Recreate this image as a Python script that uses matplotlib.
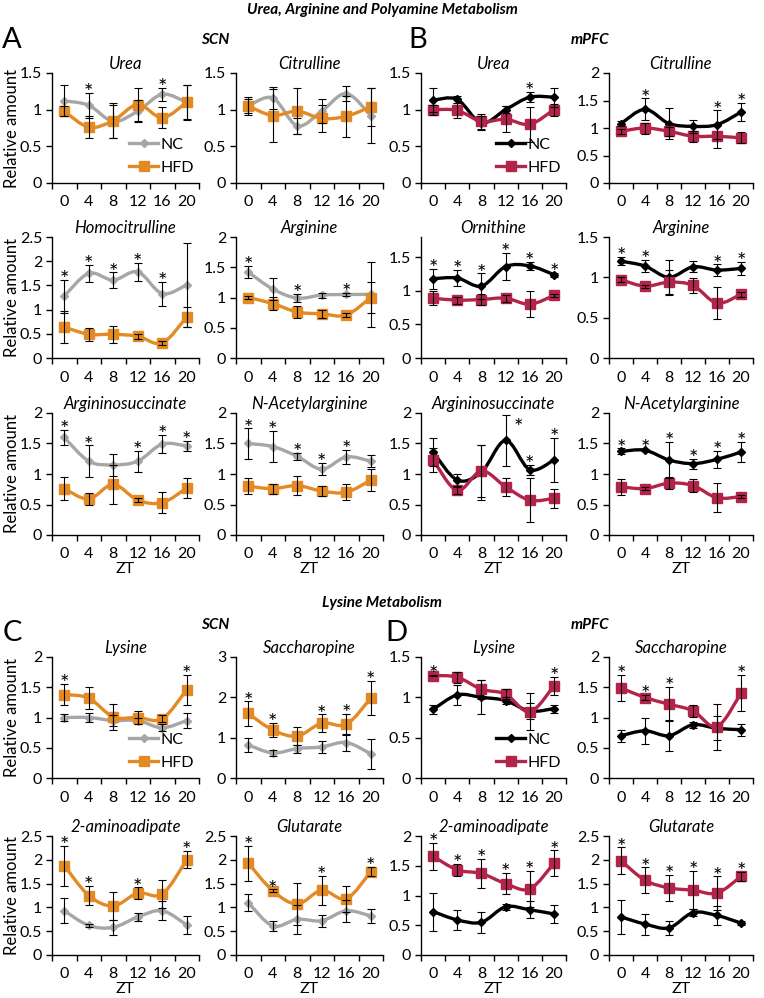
import numpy as np
import matplotlib.pyplot as plt
from matplotlib.path import Path
from matplotlib.patches import PathPatch
from matplotlib.lines import Line2D
from matplotlib.ticker import FuncFormatter

plt.rcParams['font.family'] = ['Lato', 'DejaVu Sans']

zt = [0, 4, 8, 12, 16, 20]

# ---- A: SCN, urea / arginine / polyamine
scn_urea_nc = [1.12, 1.06, 0.84, 0.98, 1.21, 1.10]
scn_urea_nc_err = [0.21, 0.17, 0.23, 0.15, 0.09, 0.23]
scn_urea_hfd = [0.98, 0.76, 0.85, 1.07, 0.89, 1.10]
scn_urea_hfd_err = [0.07, 0.15, 0.24, 0.23, 0.14, 0.24]
scn_urea_stars = [4, 16]

scn_citrulline_nc = [1.05, 1.16, 0.78, 0.98, 1.22, 0.92]
scn_citrulline_nc_err = [0.12, 0.15, 0.11, 0.16, 0.10, 0.37]
scn_citrulline_hfd = [1.05, 0.92, 0.98, 0.88, 0.91, 1.04]
scn_citrulline_hfd_err = [0.10, 0.36, 0.31, 0.19, 0.28, 0.26]
scn_citrulline_stars = []

scn_homocitrulline_nc = [1.28, 1.75, 1.61, 1.78, 1.33, 1.51]
scn_homocitrulline_nc_err = [0.34, 0.17, 0.16, 0.19, 0.25, 0.87]
scn_homocitrulline_hfd = [0.64, 0.49, 0.49, 0.45, 0.31, 0.85]
scn_homocitrulline_hfd_err = [0.33, 0.13, 0.17, 0.05, 0.04, 0.21]
scn_homocitrulline_stars = [0, 4, 8, 12, 16]

scn_arginine_nc = [1.42, 1.14, 0.99, 1.04, 1.05, 1.05]
scn_arginine_nc_err = [0.10, 0.18, 0.07, 0.04, 0.03, 0.53]
scn_arginine_hfd = [1.00, 0.90, 0.76, 0.73, 0.71, 1.00]
scn_arginine_hfd_err = [0.02, 0.11, 0.10, 0.07, 0.03, 0.25]
scn_arginine_stars = [0, 8, 16]

scn_argsucc_nc = [1.60, 1.21, 1.15, 1.21, 1.49, 1.46]
scn_argsucc_nc_err = [0.12, 0.26, 0.18, 0.17, 0.15, 0.08]
scn_argsucc_hfd = [0.76, 0.59, 0.83, 0.57, 0.53, 0.77]
scn_argsucc_hfd_err = [0.19, 0.10, 0.32, 0.03, 0.17, 0.17]
scn_argsucc_stars = [0, 4, 12, 16, 20]

scn_nacarg_nc = [1.50, 1.45, 1.29, 1.08, 1.28, 1.21]
scn_nacarg_nc_err = [0.25, 0.26, 0.06, 0.10, 0.12, 0.10]
scn_nacarg_hfd = [0.80, 0.76, 0.81, 0.72, 0.70, 0.90]
scn_nacarg_hfd_err = [0.13, 0.08, 0.16, 0.08, 0.13, 0.18]
scn_nacarg_stars = [0, 4, 8, 12, 16]

# ---- B: mPFC, urea / arginine / polyamine
pfc_urea_nc = [1.13, 1.14, 0.82, 1.00, 1.17, 1.17]
pfc_urea_nc_err = [0.16, 0.05, 0.10, 0.05, 0.07, 0.13]
pfc_urea_hfd = [1.00, 0.99, 0.84, 0.87, 0.80, 1.00]
pfc_urea_hfd_err = [0.07, 0.10, 0.10, 0.18, 0.24, 0.08]
pfc_urea_stars = [16]

pfc_citrulline_nc = [1.08, 1.34, 1.08, 1.03, 1.06, 1.29]
pfc_citrulline_nc_err = [0.04, 0.20, 0.28, 0.12, 0.26, 0.17]
pfc_citrulline_hfd = [0.94, 1.00, 0.94, 0.85, 0.85, 0.82]
pfc_citrulline_hfd_err = [0.05, 0.10, 0.08, 0.10, 0.22, 0.10]
pfc_citrulline_stars = [4, 16, 20]

pfc_ornithine_nc = [1.18, 1.19, 1.07, 1.36, 1.37, 1.24]
pfc_ornithine_nc_err = [0.15, 0.12, 0.19, 0.20, 0.06, 0.03]
pfc_ornithine_hfd = [0.89, 0.86, 0.87, 0.89, 0.80, 0.93]
pfc_ornithine_hfd_err = [0.10, 0.05, 0.08, 0.05, 0.19, 0.02]
pfc_ornithine_stars = [0, 4, 8, 12, 16, 20]

pfc_arginine_nc = [1.20, 1.14, 1.00, 1.13, 1.09, 1.11]
pfc_arginine_nc_err = [0.05, 0.08, 0.22, 0.07, 0.07, 0.08]
pfc_arginine_hfd = [0.97, 0.89, 0.94, 0.90, 0.68, 0.79]
pfc_arginine_hfd_err = [0.03, 0.02, 0.15, 0.09, 0.20, 0.03]
pfc_arginine_stars = [0, 4, 16, 20]

pfc_argsucc_nc = [1.36, 0.90, 1.03, 1.55, 1.07, 1.23]
pfc_argsucc_nc_err = [0.23, 0.10, 0.45, 0.42, 0.08, 0.36]
pfc_argsucc_hfd = [1.23, 0.73, 1.05, 0.79, 0.57, 0.60]
pfc_argsucc_hfd_err = [0.20, 0.05, 0.43, 0.15, 0.36, 0.15]
pfc_argsucc_stars = [12, 16, 20]

pfc_nacarg_nc = [1.37, 1.39, 1.23, 1.17, 1.24, 1.36]
pfc_nacarg_nc_err = [0.05, 0.02, 0.30, 0.08, 0.14, 0.17]
pfc_nacarg_hfd = [0.79, 0.76, 0.85, 0.81, 0.61, 0.63]
pfc_nacarg_hfd_err = [0.13, 0.03, 0.10, 0.10, 0.24, 0.03]
pfc_nacarg_stars = [0, 4, 8, 12, 16, 20]

# ---- C: SCN, lysine
scn_lysine_nc = [1.00, 1.00, 0.95, 0.95, 0.83, 0.95]
scn_lysine_nc_err = [0.06, 0.08, 0.09, 0.05, 0.06, 0.12]
scn_lysine_hfd = [1.38, 1.32, 1.01, 1.00, 0.98, 1.46]
scn_lysine_hfd_err = [0.17, 0.18, 0.22, 0.10, 0.06, 0.25]
scn_lysine_stars = [0, 20]

scn_sacch_nc = [0.82, 0.62, 0.73, 0.77, 0.88, 0.60]
scn_sacch_nc_err = [0.17, 0.07, 0.10, 0.15, 0.20, 0.37]
scn_sacch_hfd = [1.60, 1.19, 1.04, 1.36, 1.33, 1.98]
scn_sacch_hfd_err = [0.30, 0.18, 0.22, 0.22, 0.26, 0.43]
scn_sacch_stars = [0, 4, 12, 16, 20]

scn_aad_nc = [0.93, 0.62, 0.58, 0.80, 0.93, 0.63]
scn_aad_nc_err = [0.26, 0.03, 0.15, 0.08, 0.20, 0.18]
scn_aad_hfd = [1.88, 1.25, 1.03, 1.30, 1.28, 2.00]
scn_aad_hfd_err = [0.42, 0.20, 0.29, 0.12, 0.30, 0.18]
scn_aad_stars = [0, 4, 12, 20]

scn_glut_nc = [1.10, 0.61, 0.75, 0.72, 0.93, 0.82]
scn_glut_nc_err = [0.18, 0.10, 0.30, 0.13, 0.23, 0.14]
scn_glut_hfd = [1.93, 1.35, 1.07, 1.36, 1.18, 1.75]
scn_glut_hfd_err = [0.37, 0.03, 0.45, 0.30, 0.27, 0.10]
scn_glut_stars = [0, 4, 12, 20]

# ---- D: mPFC, lysine
pfc_lysine_nc = [0.85, 1.03, 1.00, 0.96, 0.83, 0.86]
pfc_lysine_nc_err = [0.06, 0.12, 0.21, 0.04, 0.10, 0.05]
pfc_lysine_hfd = [1.27, 1.25, 1.10, 1.04, 0.82, 1.14]
pfc_lysine_hfd_err = [0.01, 0.07, 0.12, 0.06, 0.23, 0.11]
pfc_lysine_stars = [0, 20]

pfc_sacch_nc = [0.70, 0.78, 0.70, 0.88, 0.82, 0.80]
pfc_sacch_nc_err = [0.10, 0.22, 0.26, 0.05, 0.20, 0.10]
pfc_sacch_hfd = [1.49, 1.33, 1.22, 1.11, 0.85, 1.40]
pfc_sacch_hfd_err = [0.22, 0.04, 0.28, 0.10, 0.38, 0.30]
pfc_sacch_stars = [0, 4, 8, 20]

pfc_aad_nc = [0.73, 0.59, 0.55, 0.81, 0.76, 0.69]
pfc_aad_nc_err = [0.32, 0.17, 0.18, 0.05, 0.14, 0.15]
pfc_aad_hfd = [1.66, 1.43, 1.37, 1.20, 1.11, 1.54]
pfc_aad_hfd_err = [0.23, 0.10, 0.24, 0.18, 0.31, 0.22]
pfc_aad_stars = [0, 4, 8, 12, 16, 20]

pfc_glut_nc = [0.80, 0.65, 0.57, 0.89, 0.83, 0.67]
pfc_glut_nc_err = [0.36, 0.22, 0.15, 0.08, 0.20, 0.05]
pfc_glut_hfd = [1.98, 1.57, 1.41, 1.36, 1.30, 1.65]
pfc_glut_hfd_err = [0.28, 0.27, 0.28, 0.40, 0.35, 0.10]
pfc_glut_stars = [0, 4, 8, 12, 16, 20]

W, H = 764, 998
SCN_COLORS = ('#a6a6a6', '#e48a25')
PFC_COLORS = ('#000000', '#b4244a')

fig = plt.figure(figsize=(W / 100, H / 100), dpi=100)


def smooth_path(x, y):
    # excel-style smoothed line: cubic bezier through the data points
    n = len(x)
    verts = [(x[0], y[0])]
    codes = [Path.MOVETO]
    for i in range(n - 1):
        xa, ya = (x[i - 1], y[i - 1]) if i > 0 else (x[i], y[i])
        xd, yd = (x[i + 2], y[i + 2]) if i < n - 2 else (x[i + 1], y[i + 1])
        c1 = (x[i] + (x[i + 1] - xa) / 6, y[i] + (y[i + 1] - ya) / 6)
        c2 = (x[i + 1] - (xd - x[i]) / 6, y[i + 1] - (yd - y[i]) / 6)
        verts += [c1, c2, (x[i + 1], y[i + 1])]
        codes += [Path.CURVE4] * 3
    return Path(verts, codes)


def draw(box, title, nc, nc_err, hfd, hfd_err, stars, ymax, ystep, colors,
         ylabel=False, xlabel=False, legend=False, star_shift=None):
    left, top, right, bottom = box
    ax = fig.add_axes([left / W, 1 - bottom / H, (right - left) / W, (bottom - top) / H])
    x = np.arange(len(zt))
    c_nc, c_hfd = colors
    for y, c, m, ms in [(nc, c_nc, 'D', 4.4), (hfd, c_hfd, 's', 6.8)]:
        ax.add_patch(PathPatch(smooth_path(x, y), fill=False, edgecolor=c, lw=2.4, zorder=2))
        ax.plot(x, y, ls='none', marker=m, ms=ms, color=c, zorder=3)
    for y, e in [(nc, nc_err), (hfd, hfd_err)]:
        ax.errorbar(x, y, yerr=e, fmt='none', ecolor='black', elinewidth=0.8,
                    capsize=3, capthick=0.8, zorder=4)
    star_shift = star_shift or {}
    for s in stars:
        i = zt.index(s)
        top_val = max(nc[i] + nc_err[i], hfd[i] + hfd_err[i])
        dx, dy = star_shift.get(s, (0, -4.5))
        ax.annotate('*', (i, top_val), xytext=(dx, dy), textcoords='offset points',
                    ha='center', va='baseline', fontsize=16, annotation_clip=False)
    ax.set_xlim(-0.5, len(zt) - 0.5)
    ax.set_ylim(0, ymax)
    ax.set_yticks(np.arange(0, ymax + 1e-9, ystep))
    ax.yaxis.set_major_formatter(FuncFormatter(lambda v, p: f'{v:g}'))
    ax.set_xticks(np.arange(-0.5, len(zt), 1))
    ax.set_xticks(x, labels=[str(v) for v in zt], minor=True)
    ax.tick_params(axis='x', which='major', length=4, width=1, labelbottom=False)
    ax.tick_params(axis='x', which='minor', length=0, pad=9, labelsize=11.5)
    ax.tick_params(axis='y', length=4, width=1, pad=3, labelsize=11.5)
    for sp in ['top', 'right']:
        ax.spines[sp].set_visible(False)
    for sp in ['left', 'bottom']:
        ax.spines[sp].set_linewidth(1.0)
    ax.set_title(title, style='italic', fontsize=12, pad=3)
    if xlabel:
        ax.set_xlabel('ZT', fontsize=11.5, labelpad=0.5)
    if ylabel:
        fig.text(12 / W, 1 - (top + bottom) / 2 / H, 'Relative amount', rotation=90,
                 ha='center', va='center', fontsize=12)
    if legend:
        handles = [Line2D([], [], color=c_nc, marker='D', ms=4.4, lw=2.4),
                   Line2D([], [], color=c_hfd, marker='s', ms=6.8, lw=2.4)]
        ax.legend(handles, ['NC', 'HFD'], loc='lower right', frameon=False, fontsize=11.5,
                  handlelength=1.8, handletextpad=0.15, borderaxespad=0.1,
                  labelspacing=0.55, bbox_to_anchor=(1.02, 0.0))
    return ax


cols = [(52, 199), (236, 383), (421, 566), (609, 753)]
rows = [(73, 183), (237, 358), (413, 535), (657, 778), (836, 955)]


def box(r, c):
    return (cols[c][0], rows[r][0], cols[c][1], rows[r][1])


# top block
draw(box(0, 0), 'Urea', scn_urea_nc, scn_urea_nc_err, scn_urea_hfd, scn_urea_hfd_err,
     scn_urea_stars, 1.5, 0.5, SCN_COLORS, ylabel=True, legend=True)
draw(box(0, 1), 'Citrulline', scn_citrulline_nc, scn_citrulline_nc_err, scn_citrulline_hfd,
     scn_citrulline_hfd_err, scn_citrulline_stars, 1.5, 0.5, SCN_COLORS)
draw(box(1, 0), 'Homocitrulline', scn_homocitrulline_nc, scn_homocitrulline_nc_err,
     scn_homocitrulline_hfd, scn_homocitrulline_hfd_err, scn_homocitrulline_stars,
     2.5, 0.5, SCN_COLORS, ylabel=True)
draw(box(1, 1), 'Arginine', scn_arginine_nc, scn_arginine_nc_err, scn_arginine_hfd,
     scn_arginine_hfd_err, scn_arginine_stars, 2, 0.5, SCN_COLORS)
draw(box(2, 0), 'Argininosuccinate', scn_argsucc_nc, scn_argsucc_nc_err, scn_argsucc_hfd,
     scn_argsucc_hfd_err, scn_argsucc_stars, 2, 0.5, SCN_COLORS, ylabel=True, xlabel=True)
draw(box(2, 1), 'N-Acetylarginine', scn_nacarg_nc, scn_nacarg_nc_err, scn_nacarg_hfd,
     scn_nacarg_hfd_err, scn_nacarg_stars, 2, 0.5, SCN_COLORS, xlabel=True)

draw(box(0, 2), 'Urea', pfc_urea_nc, pfc_urea_nc_err, pfc_urea_hfd, pfc_urea_hfd_err,
     pfc_urea_stars, 1.5, 0.5, PFC_COLORS, legend=True)
draw(box(0, 3), 'Citrulline', pfc_citrulline_nc, pfc_citrulline_nc_err, pfc_citrulline_hfd,
     pfc_citrulline_hfd_err, pfc_citrulline_stars, 2, 0.5, PFC_COLORS)
ax_orn = draw(box(1, 2), 'Ornithine', pfc_ornithine_nc, pfc_ornithine_nc_err, pfc_ornithine_hfd,
              pfc_ornithine_hfd_err, pfc_ornithine_stars, 1.8, 0.5, PFC_COLORS)
ax_orn.set_yticks([0, 0.5, 1, 1.5])
draw(box(1, 3), 'Arginine', pfc_arginine_nc, pfc_arginine_nc_err, pfc_arginine_hfd,
     pfc_arginine_hfd_err, pfc_arginine_stars, 1.5, 0.5, PFC_COLORS)
# star at ZT12 sits beside its error bar so it clears the title
draw(box(2, 2), 'Argininosuccinate', pfc_argsucc_nc, pfc_argsucc_nc_err, pfc_argsucc_hfd,
     pfc_argsucc_hfd_err, pfc_argsucc_stars, 2, 0.5, PFC_COLORS, xlabel=True,
     star_shift={12: (9, -14)})
draw(box(2, 3), 'N-Acetylarginine', pfc_nacarg_nc, pfc_nacarg_nc_err, pfc_nacarg_hfd,
     pfc_nacarg_hfd_err, pfc_nacarg_stars, 2, 0.5, PFC_COLORS, xlabel=True)

# bottom block
draw(box(3, 0), 'Lysine', scn_lysine_nc, scn_lysine_nc_err, scn_lysine_hfd, scn_lysine_hfd_err,
     scn_lysine_stars, 2, 0.5, SCN_COLORS, ylabel=True, legend=True)
draw(box(3, 1), 'Saccharopine', scn_sacch_nc, scn_sacch_nc_err, scn_sacch_hfd, scn_sacch_hfd_err,
     scn_sacch_stars, 3, 1, SCN_COLORS)
draw(box(4, 0), '2-aminoadipate', scn_aad_nc, scn_aad_nc_err, scn_aad_hfd, scn_aad_hfd_err,
     scn_aad_stars, 2.5, 0.5, SCN_COLORS, ylabel=True, xlabel=True)
draw(box(4, 1), 'Glutarate', scn_glut_nc, scn_glut_nc_err, scn_glut_hfd, scn_glut_hfd_err,
     scn_glut_stars, 2.5, 0.5, SCN_COLORS, xlabel=True)

draw(box(3, 2), 'Lysine', pfc_lysine_nc, pfc_lysine_nc_err, pfc_lysine_hfd, pfc_lysine_hfd_err,
     pfc_lysine_stars, 1.5, 0.5, PFC_COLORS, legend=True)
draw(box(3, 3), 'Saccharopine', pfc_sacch_nc, pfc_sacch_nc_err, pfc_sacch_hfd, pfc_sacch_hfd_err,
     pfc_sacch_stars, 2, 0.5, PFC_COLORS)
draw(box(4, 2), '2-aminoadipate', pfc_aad_nc, pfc_aad_nc_err, pfc_aad_hfd, pfc_aad_hfd_err,
     pfc_aad_stars, 2, 0.5, PFC_COLORS, xlabel=True)
draw(box(4, 3), 'Glutarate', pfc_glut_nc, pfc_glut_nc_err, pfc_glut_hfd, pfc_glut_hfd_err,
     pfc_glut_stars, 2.5, 0.5, PFC_COLORS, xlabel=True)


def ftext(x, y, s, **kw):
    fig.text(x / W, 1 - y / H, s, ha='center', va='center', **kw)


ftext(382, 10, 'Urea, Arginine and Polyamine Metabolism', fontsize=11, weight='bold', style='italic')
ftext(382, 603, 'Lysine Metabolism', fontsize=11, weight='bold', style='italic')
ftext(12, 40, 'A', fontsize=21)
ftext(418, 40, 'B', fontsize=21)
ftext(12, 633, 'C', fontsize=21)
ftext(396, 633, 'D', fontsize=21)
for yy in [40, 625]:
    ftext(215, yy, 'SCN', fontsize=11, weight='bold', style='italic')
    ftext(590, yy, 'mPFC', fontsize=11, weight='bold', style='italic')

fig.savefig('out.png', dpi=100)
